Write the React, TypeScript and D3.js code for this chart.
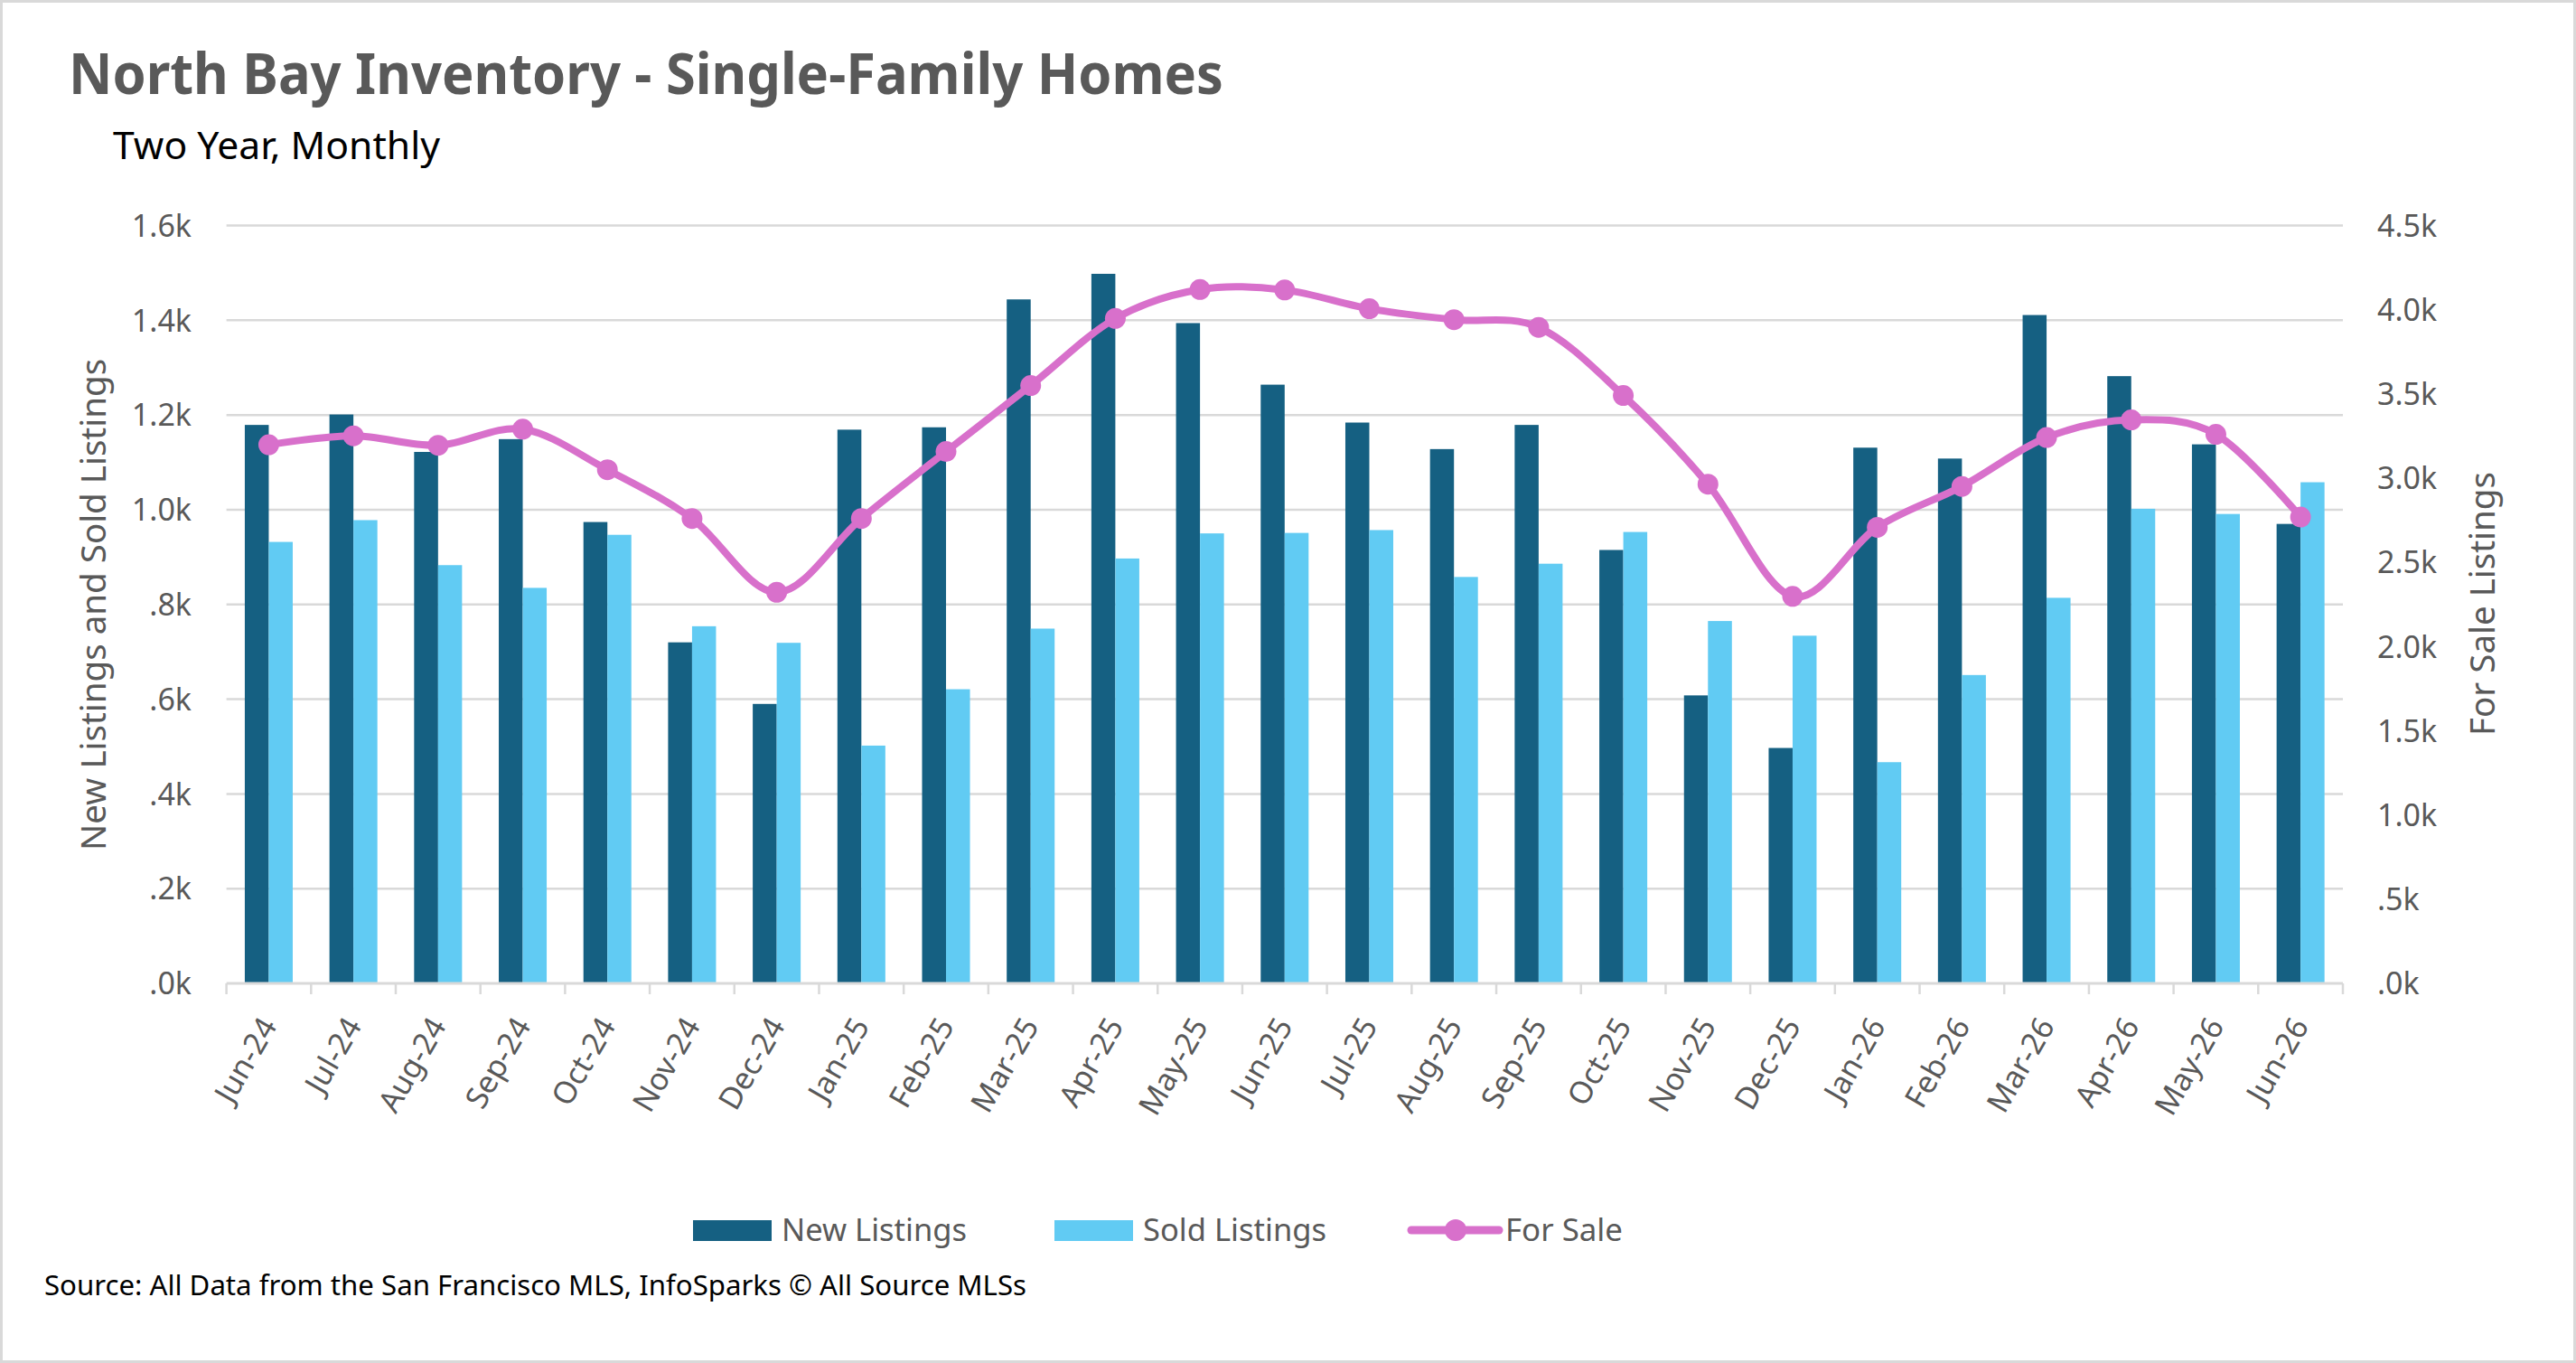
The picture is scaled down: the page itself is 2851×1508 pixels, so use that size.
import React from "react";
import * as d3 from "d3";

const months = [
  "Jun-24", "Jul-24", "Aug-24", "Sep-24", "Oct-24", "Nov-24", "Dec-24",
  "Jan-25", "Feb-25", "Mar-25", "Apr-25", "May-25", "Jun-25", "Jul-25",
  "Aug-25", "Sep-25", "Oct-25", "Nov-25", "Dec-25", "Jan-26", "Feb-26",
  "Mar-26", "Apr-26", "May-26", "Jun-26",
];
const newListings = [
  1179, 1201, 1122, 1149, 974, 720, 590, 1169, 1174, 1444, 1498, 1394, 1264,
  1184, 1128, 1179, 915, 608, 497, 1131, 1108, 1411, 1282, 1138, 970,
];
const soldListings = [
  932, 978, 883, 835, 947, 754, 719, 502, 621, 749, 897, 950, 951, 957, 858,
  886, 953, 765, 734, 467, 651, 814, 1002, 991, 1058,
];
const forSale = [
  3198, 3251, 3195, 3291, 3050, 2760, 2322, 2760, 3158, 3550, 3948, 4120,
  4117, 4006, 3941, 3895, 3491, 2964, 2298, 2708, 2951, 3241, 3346, 3260, 2769,
];
const leftTicks = [0, 200, 400, 600, 800, 1000, 1200, 1400, 1600];
const rightTicks = [0, 500, 1000, 1500, 2000, 2500, 3000, 3500, 4000, 4500];

const W = 2851;
const H = 1508;
const FONT = "'Noto Sans', 'Open Sans', sans-serif";
const DARK = "#156082";
const LIGHT = "#61CBF3";
const PINK = "#D870CB";
const GRID = "#D9D9D9";
const TXT = "#595959";

const fmtK = (v: number) => {
  const s = (v / 1000).toFixed(1);
  return (s.startsWith("0") ? s.slice(1) : s) + "k";
};

export default function App() {
  const left = 250.6;
  const right = 2593;
  const top = 249.5;
  const bottom = 1088;

  const x = d3.scaleBand<string>().domain(months).range([left, right]).padding(0);
  const yL = d3.scaleLinear().domain([0, 1600]).range([bottom, top]);
  const yR = d3.scaleLinear().domain([0, 4500]).range([bottom, top]);
  const bw = x.bandwidth();
  const barW = bw * 0.283;
  const cx = (m: string) => (x(m) as number) + bw / 2;

  const lineGen = d3
    .line<number>()
    .x((_, i) => cx(months[i]))
    .y((d) => yR(d))
    .curve(d3.curveCardinal.tension(0));

  const boundaries = d3.range(months.length + 1).map((i) => left + i * bw);

  return (
    <svg width={W} height={H} style={{ display: "block" }} fontFamily={FONT}>
      <style>{`body{margin:0}`}</style>
      <rect x={0} y={0} width={W} height={H} fill="#fff" />
      <rect x={1.5} y={1.5} width={W - 3} height={H - 3} fill="none" stroke={GRID} strokeWidth={3} />

      {/* Title */}
      <text x={76} y={104} fontSize={62} fontWeight={700} fill={TXT} textLength={1278} lengthAdjust="spacingAndGlyphs">
        North Bay Inventory - Single-Family Homes
      </text>
      <text x={125} y={176} fontSize={42} fill="#000" textLength={362} lengthAdjust="spacingAndGlyphs">
        Two Year, Monthly
      </text>

      {/* Gridlines */}
      {leftTicks.slice(1).map((t) => (
        <line key={t} x1={left} x2={right} y1={yL(t)} y2={yL(t)} stroke={GRID} strokeWidth={2.5} />
      ))}

      {/* Bars */}
      {months.map((m, i) => (
        <g key={m}>
          <rect x={cx(m) - barW} y={yL(newListings[i])} width={barW} height={bottom - yL(newListings[i])} fill={DARK} />
          <rect x={cx(m)} y={yL(soldListings[i])} width={barW} height={bottom - yL(soldListings[i])} fill={LIGHT} />
        </g>
      ))}

      {/* Axis baseline & ticks */}
      <line x1={left} x2={right} y1={bottom} y2={bottom} stroke={GRID} strokeWidth={3} />
      {boundaries.map((b, i) => (
        <line key={i} x1={b} x2={b} y1={bottom} y2={bottom + 12} stroke={GRID} strokeWidth={2.5} />
      ))}

      {/* Line */}
      <path d={lineGen(forSale) || ""} fill="none" stroke={PINK} strokeWidth={8} strokeLinejoin="round" />
      {forSale.map((v, i) => (
        <circle key={i} cx={cx(months[i])} cy={yR(v)} r={11.5} fill={PINK} />
      ))}

      {/* Left tick labels */}
      {leftTicks.map((t) => (
        <text key={t} x={212} y={yL(t)} dy="0.36em" textAnchor="end" fontSize={34} fill={TXT}>
          {fmtK(t)}
        </text>
      ))}
      {/* Right tick labels */}
      {rightTicks.map((t) => (
        <text key={t} x={2631} y={yR(t)} dy="0.36em" textAnchor="start" fontSize={34} fill={TXT}>
          {fmtK(t)}
        </text>
      ))}

      {/* X labels */}
      {months.map((m) => (
        <text
          key={m}
          transform={`translate(${cx(m) + 10},${1135}) rotate(-60)`}
          textAnchor="end"
          fontSize={34}
          fill={TXT}
        >
          {m}
        </text>
      ))}

      {/* Axis titles */}
      <text transform={`translate(117,669) rotate(-90)`} textAnchor="middle" fontSize={38.5} fill={TXT}>
        New Listings and Sold Listings
      </text>
      <text transform={`translate(2761,668) rotate(-90)`} textAnchor="middle" fontSize={38.5} fill={TXT}>
        For Sale Listings
      </text>

      {/* Legend */}
      <rect x={767} y={1350} width={87} height={23} fill={DARK} />
      <text x={865} y={1373} fontSize={35} fill={TXT} textLength={205} lengthAdjust="spacingAndGlyphs">
        New Listings
      </text>
      <rect x={1167} y={1350} width={87} height={23} fill={LIGHT} />
      <text x={1265} y={1373} fontSize={35} fill={TXT} textLength={203} lengthAdjust="spacingAndGlyphs">
        Sold Listings
      </text>
      <line x1={1562} x2={1659} y1={1361} y2={1361} stroke={PINK} strokeWidth={9} strokeLinecap="round" />
      <circle cx={1611} cy={1361} r={12} fill={PINK} />
      <text x={1666} y={1373} fontSize={35} fill={TXT} textLength={130} lengthAdjust="spacingAndGlyphs">
        For Sale
      </text>

      {/* Source */}
      <text x={49} y={1433} fontSize={30} fill="#000" textLength={1087} lengthAdjust="spacingAndGlyphs">
        Source: All Data from the San Francisco MLS, InfoSparks © All Source MLSs
      </text>
    </svg>
  );
}
